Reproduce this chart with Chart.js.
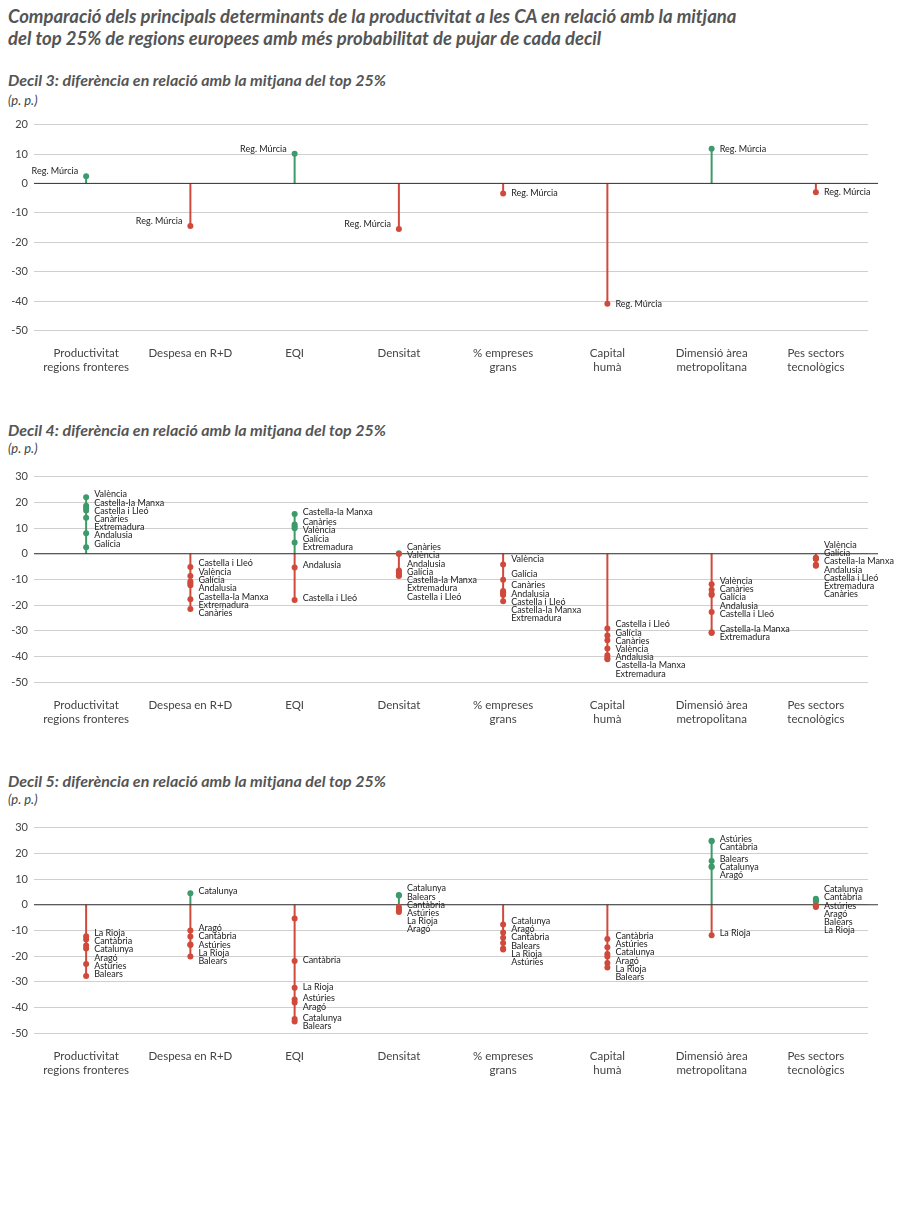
<!DOCTYPE html>
<html><head><meta charset="utf-8">
<script src="https://cdn.jsdelivr.net/npm/chart.js@4"></script>
<style>
body{margin:0;background:#fff;font-family:Lato,sans-serif;width:900px;height:1216px;position:relative;overflow:hidden}
.t{position:absolute;left:8px;color:#555;font-weight:bold;font-style:italic}
.h1{font-size:18.5px;line-height:22px;top:5px}
.h2{font-size:16px}
.pp{position:absolute;left:8px;font-size:13px;font-style:italic;color:#444}
.c{position:absolute;left:0;width:900px;height:270px}
</style></head><body>
<div class="t h1">Comparació dels principals determinants de la productivitat a les CA en relació amb la mitjana<br>del top 25% de regions europees amb més probabilitat de pujar de cada decil</div>
<div class="t h2" style="top:70px">Decil 3: diferència en relació amb la mitjana del top 25%</div><div class="pp" style="top:92px">(p. p.)</div>
<div class="t h2" style="top:420px">Decil 4: diferència en relació amb la mitjana del top 25%</div><div class="pp" style="top:440px">(p. p.)</div>
<div class="t h2" style="top:771px">Decil 5: diferència en relació amb la mitjana del top 25%</div><div class="pp" style="top:791px">(p. p.)</div>
<div class="c" style="top:112px"><canvas id="c3"></canvas></div>
<div class="c" style="top:464px"><canvas id="c4"></canvas></div>
<div class="c" style="top:815px"><canvas id="c5"></canvas></div>
<script>
const categories=[["Productivitat","regions fronteres"],"Despesa en R+D","EQI","Densitat",["% empreses","grans"],["Capital","humà"],["Dimensió àrea","metropolitana"],["Pes sectors","tecnològics"]];
const yTicks=[20,10,0,-10,-20,-30,-40,-50];
const yTicks45=[30,20,10,0,-10,-20,-30,-40,-50];

const d3Values=[[2.4],[-14.5],[10.1],[-15.5],[-3.4],[-40.9],[11.8],[-3]];
const d3Labels=[["Reg. Múrcia"],["Reg. Múrcia"],["Reg. Múrcia"],["Reg. Múrcia"],["Reg. Múrcia"],["Reg. Múrcia"],["Reg. Múrcia"],["Reg. Múrcia"]];
const d3Side=["left","left","left","left","right","right","right","right"];

const d4Values=[
[22,18.7,17.8,16.8,14,8,2.5],
[-5.1,-8.6,-10.8,-11.5,-12.2,-17.7,-21.5],
[15.5,11.4,10.6,9.9,4.4,-5.3,-18],
[0.2,-0.1,-6.5,-6.8,-7.5,-8.3,-8.6],
[-4.2,-10.1,-14.5,-15,-15.5,-16,-18.5],
[-29,-31.8,-33.6,-36.8,-39.4,-40.5,-41],
[-11.8,-14,-15.6,-16,-22.6,-30.5,-30.8],
[-1.5,-1.7,-1.8,-2,-4.3,-4.5,-4.7]];
const d4Labels=[
["València","Castella-la Manxa","Castella i Lleó","Canàries","Extremadura","Andalusia","Galícia"],
["Castella i Lleó","València","Galícia","Andalusia","Castella-la Manxa","Extremadura","Canàries"],
["Castella-la Manxa","Canàries","València","Galícia","Extremadura","Andalusia","Castella i Lleó"],
["Canàries","València","Andalusia","Galícia","Castella-la Manxa","Extremadura","Castella i Lleó"],
["València","Galícia","Canàries","Andalusia","Castella i Lleó","Castella-la Manxa","Extremadura"],
["Castella i Lleó","Galícia","Canàries","València","Andalusia","Castella-la Manxa","Extremadura"],
["València","Canàries","Galícia","Andalusia","Castella i Lleó","Castella-la Manxa","Extremadura"],
["València","Galícia","Castella-la Manxa","Andalusia","Castella i Lleó","Extremadura","Canàries"]];

const d5Values=[
[-12.2,-13.5,-15.8,-17,-23,-27.7],
[4.5,-10,-12.3,-15.4,-15.6,-20.1],
[-5.3,-21.9,-32.3,-36.8,-38,-44.4,-45.4],
[3.8,3.6,-0.9,-1.5,-2.2,-2.8],
[-7.7,-10.8,-12.8,-14.9,-17,-17.4],
[-13.3,-16.5,-19.1,-20.1,-22.6,-24.4],
[24.9,24.7,17,14.9,14.7,-11.8],
[2.3,1.7,1.2,-0.3,-0.6,-0.9]];
const d5Labels=[
["La Rioja","Cantàbria","Catalunya","Aragó","Astúries","Balears"],
["Catalunya","Aragó","Cantàbria","Astúries","La Rioja","Balears"],
["","Cantàbria","La Rioja","Astúries","Aragó","Catalunya","Balears"],
["Catalunya","Balears","Cantàbria","Astúries","La Rioja","Aragó"],
["Catalunya","Aragó","Cantàbria","Balears","La Rioja","Astúries"],
["Cantàbria","Astúries","Catalunya","Aragó","La Rioja","Balears"],
["Astúries","Cantàbria","Balears","Catalunya","Aragó","La Rioja"],
["Catalunya","Cantàbria","Astúries","Aragó","Balears","La Rioja"]];

const GREEN="#3d9a6b",RED="#d04a3c";
const col=v=>v>0?GREEN:RED;

function make(id,values,labels,ticks,side){
  const pts=[];
  values.forEach((arr,i)=>arr.forEach(v=>pts.push({x:i,y:v})));
  const stems={id:'stems',beforeDatasetsDraw(ch){
    const c=ch.ctx,xs=ch.scales.x,ys=ch.scales.y;
    const y0=ys.getPixelForValue(0);
    c.save();c.lineWidth=2;
    values.forEach((arr,i)=>{
      const x=xs.getPixelForValue(i);
      const mx=Math.max(...arr),mn=Math.min(...arr);
      if(mx>0){c.strokeStyle=GREEN;c.beginPath();c.moveTo(x,y0);c.lineTo(x,ys.getPixelForValue(mx));c.stroke();}
      if(mn<0){c.strokeStyle=RED;c.beginPath();c.moveTo(x,y0);c.lineTo(x,ys.getPixelForValue(mn));c.stroke();}
    });
    c.strokeStyle="#333";c.lineWidth=1;c.beginPath();c.moveTo(ch.chartArea.left,y0);c.lineTo(ch.chartArea.right+10,y0);c.stroke();
    c.restore();
  },afterDatasetsDraw(ch){
    const c=ch.ctx,xs=ch.scales.x,ys=ch.scales.y;
    c.save();c.font="9px Lato";c.fillStyle="#222";c.textBaseline="middle";
    const sp=8.2;
    values.forEach((arr,i)=>{
      const x=xs.getPixelForValue(i);
      const want=arr.map(v=>ys.getPixelForValue(v));
      const pos=want.slice();
      for(let k=1;k<pos.length;k++) if(pos[k]<pos[k-1]+sp) pos[k]=pos[k-1]+sp;
      const shift=(pos.reduce((a,b)=>a+b,0)-want.reduce((a,b)=>a+b,0))/pos.length;
      const s=side&&side[i]==="left";
      c.textAlign=s?"right":"left";
      labels[i].forEach((t,k)=>{
        const yy=pos[k]-shift*0.6+(s?-5:0);
        c.fillText(t,s?x-8:x+8,yy);
      });
    });
    c.restore();
  }};
  new Chart(document.getElementById(id),{type:'scatter',
    data:{datasets:[{data:pts,pointRadius:3,pointHoverRadius:3,
      pointBackgroundColor:pts.map(p=>col(p.y)),pointBorderColor:pts.map(p=>col(p.y)),pointBorderWidth:0}]},
    options:{responsive:false,animation:false,events:[],devicePixelRatio:1,
      layout:{padding:{top:6,right:32,left:8,bottom:0}},
      plugins:{legend:{display:false},tooltip:{enabled:false}},
      scales:{
        x:{type:'linear',min:-0.5,max:7.5,
          afterBuildTicks:a=>{a.ticks=categories.map((_,i)=>({value:i}));},
          ticks:{callback:(v)=>categories[v],autoSkip:false,maxRotation:0,color:"#444",font:{family:"Lato",size:11.5},padding:8},
          grid:{display:false},border:{display:false}},
        y:{min:ticks[ticks.length-1],max:ticks[0],
          afterFit:s=>{s.width=26;},
          afterBuildTicks:a=>{a.ticks=ticks.map(v=>({value:v}));},
          ticks:{color:"#444",font:{family:"Lato",size:11},padding:6},
          grid:{color:"#cfcfcf",lineWidth:1,tickLength:0},border:{display:false}}}},
    plugins:[stems]});
}
function setup(id){const cv=document.getElementById(id);cv.width=900;cv.height=270;}
['c3','c4','c5'].forEach(setup);
make('c3',d3Values,d3Labels,yTicks,d3Side);
make('c4',d4Values,d4Labels,yTicks45,null);
make('c5',d5Values,d5Labels,yTicks45,null);
</script></body></html>
